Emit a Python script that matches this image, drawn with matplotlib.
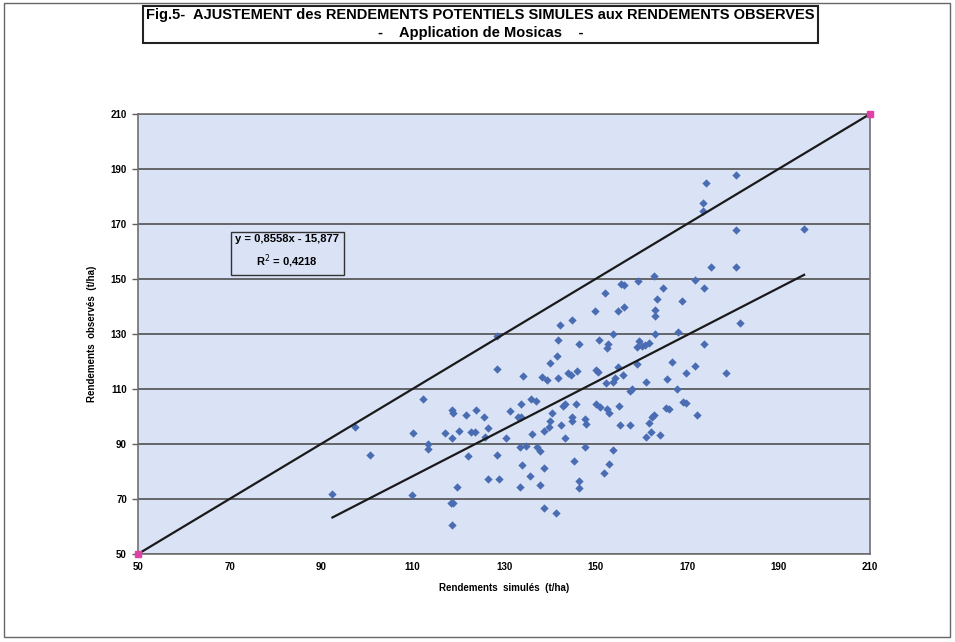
import numpy as np
import matplotlib
matplotlib.use("Agg")
import matplotlib.pyplot as plt
from matplotlib.patches import Rectangle

plt.rcParams['font.family'] = ['Liberation Sans', 'DejaVu Sans']

# rendements simulés / observés (t/ha)
simules = [92.5, 97.4, 100.7, 109.9, 110.0, 112.4, 113.3, 113.3, 117.1, 118.6,
           118.9, 118.6, 118.4, 118.8, 118.6, 119.8, 120.2, 121.8, 122.1, 122.7,
           123.7, 123.8, 125.6, 125.8, 126.6, 126.5, 128.5, 128.5, 128.5, 128.9,
           130.4, 131.4, 133.0, 133.8, 133.8, 133.5, 133.9, 133.5, 134.1, 134.8,
           135.7, 136.2, 136.0, 137.1, 137.3, 137.9, 137.8, 138.3, 139.3, 138.7,
           138.8, 138.8, 139.8, 140.1, 140.6, 140.1, 141.5, 141.8, 142.2, 141.3,
           141.9, 142.5, 142.8, 143.4, 143.3, 144.0, 144.6, 144.9, 144.8, 144.8,
           145.2, 145.7, 146.0, 146.4, 146.5, 146.5, 147.7, 147.9, 147.6, 149.8,
           150.1, 150.5, 150.1, 151.0, 150.7, 152.0, 152.3, 152.6, 152.8, 152.6,
           152.9, 151.9, 152.9,
           174.1, 180.8, 173.5, 173.6, 180.8, 195.6, 175.2, 180.8, 155.0, 156.2,
           155.5, 156.3, 159.3, 162.8, 164.7, 163.4, 163.1, 162.9, 168.9, 171.7,
           173.7, 181.6, 153.9, 162.9, 168.1, 173.7, 159.6, 159.0, 160.1, 160.9,
           161.8, 155.0, 156.1, 154.3, 153.9, 159.0, 166.7, 171.7, 169.8, 178.5,
           161.0, 165.6, 167.9, 158.0, 157.5, 155.2, 165.4, 166.1, 169.2, 169.8,
           172.1, 155.4, 157.5, 161.8, 162.3, 162.8, 161.0, 162.1, 164.2, 153.9]
observes = [72.0, 96.3, 86.0, 71.3, 94.1, 106.2, 90.0, 88.2, 94.1, 102.4,
            101.2, 92.2, 68.7, 68.4, 60.4, 74.5, 94.6, 100.7, 85.6, 94.4,
            94.4, 102.4, 99.9, 92.7, 96.0, 77.4, 129.4, 117.4, 85.9, 77.2,
            92.3, 102.1, 99.9, 104.4, 99.9, 89.0, 82.5, 74.2, 114.7, 89.4,
            78.4, 93.5, 106.5, 105.5, 88.8, 87.5, 75.1, 114.5, 113.3, 66.8,
            81.2, 94.8, 96.3, 98.2, 101.2, 119.3, 122.0, 127.7, 133.3, 64.8,
            113.9, 96.8, 104.0, 104.4, 92.2, 115.7, 115.1, 135.1, 98.4, 99.9,
            83.8, 104.4, 116.7, 126.2, 76.5, 73.9, 99.2, 97.1, 89.0, 138.5,
            116.9, 116.2, 104.4, 103.6, 127.7, 144.8, 112.3, 125.0, 126.5, 102.8,
            101.2, 79.6, 82.7,
            185.0, 187.8, 177.8, 174.8, 167.8, 168.2, 154.5, 154.5, 138.5, 139.7,
            148.1, 147.7, 149.4, 151.1, 146.8, 142.6, 138.7, 136.5, 142.0, 149.5,
            146.8, 133.9, 129.9, 129.9, 130.7, 126.2, 127.6, 125.4, 125.6, 126.0,
            126.6, 117.9, 115.1, 113.9, 112.7, 119.1, 119.9, 118.4, 116.0, 115.7,
            112.7, 113.8, 109.9, 109.9, 109.3, 103.8, 103.1, 102.6, 105.3, 104.8,
            100.7, 96.9, 96.9, 97.5, 99.7, 100.5, 92.5, 94.5, 93.1, 87.8]

# droite 1:1 et régression affichée
bissectrice = [50, 210]
pente = 0.8558
ordonnee = -15.877
ticks = [50, 70, 90, 110, 130, 150, 170, 190, 210]

fig = plt.figure(figsize=(9.55, 6.42), dpi=100)
ax = fig.add_axes([138 / 955, 1 - 554 / 642, 732 / 955, 440 / 642])
ax.set_facecolor('#dae2f5')

ax.scatter(simules, observes, marker='D', s=18, color='#4a6cb3', zorder=3, linewidths=0)
ax.plot(bissectrice, bissectrice, color='#1a1a1a', lw=1.6, zorder=4,
        marker='s', markersize=5, markerfacecolor='#e040a8', markeredgecolor='#e040a8',
        clip_on=False)
tx = np.array([min(simules), max(simules)])
ax.plot(tx, pente * tx + ordonnee, color='#1a1a1a', lw=1.6, zorder=4)

ax.set_xlim(50, 210)
ax.set_ylim(50, 210)
ax.set_xticks(ticks)
ax.set_yticks(ticks)
ax.set_xticklabels([str(t) for t in ticks], fontsize=7, fontweight='bold')
ax.set_yticklabels([str(t) for t in ticks], fontsize=7, fontweight='bold')
ax.yaxis.grid(True, color='#505050', lw=1.2)
ax.set_axisbelow(True)
ax.tick_params(axis='x', length=0, pad=6)
ax.tick_params(axis='y', length=4, width=1, color='#606060', pad=4)
for s in ax.spines.values():
    s.set_color('#707070')
    s.set_linewidth(1.2)

ax.set_xlabel('Rendements  simulés  (t/ha)', fontsize=7, fontweight='bold', labelpad=8)
ax.set_ylabel('Rendements  observés  (t/ha)', fontsize=7, fontweight='bold', labelpad=10)

ax.text(0.204, 0.686, 'y = 0,8558x - 15,877\nR$^2$ = 0,4218', transform=ax.transAxes,
        fontsize=8, fontweight='bold', ha='center', va='center', linespacing=1.7,
        bbox=dict(boxstyle='square,pad=0.4', facecolor='#dae2f5', edgecolor='#333333', lw=1))

fig.text(0.503, 0.962,
         'Fig.5-  AJUSTEMENT des RENDEMENTS POTENTIELS SIMULES aux RENDEMENTS OBSERVES\n'
         '-    Application de Mosicas    -',
         ha='center', va='center', fontsize=10.5, fontweight='bold', linespacing=1.35,
         bbox=dict(boxstyle='square,pad=0.2', facecolor='white', edgecolor='#222222', lw=1.5))

fig.patches.append(Rectangle((4 / 955, 5 / 642), 946 / 955, 634 / 642, transform=fig.transFigure,
                             fill=False, edgecolor='#666666', lw=1))

fig.savefig('out.png', dpi=100)
